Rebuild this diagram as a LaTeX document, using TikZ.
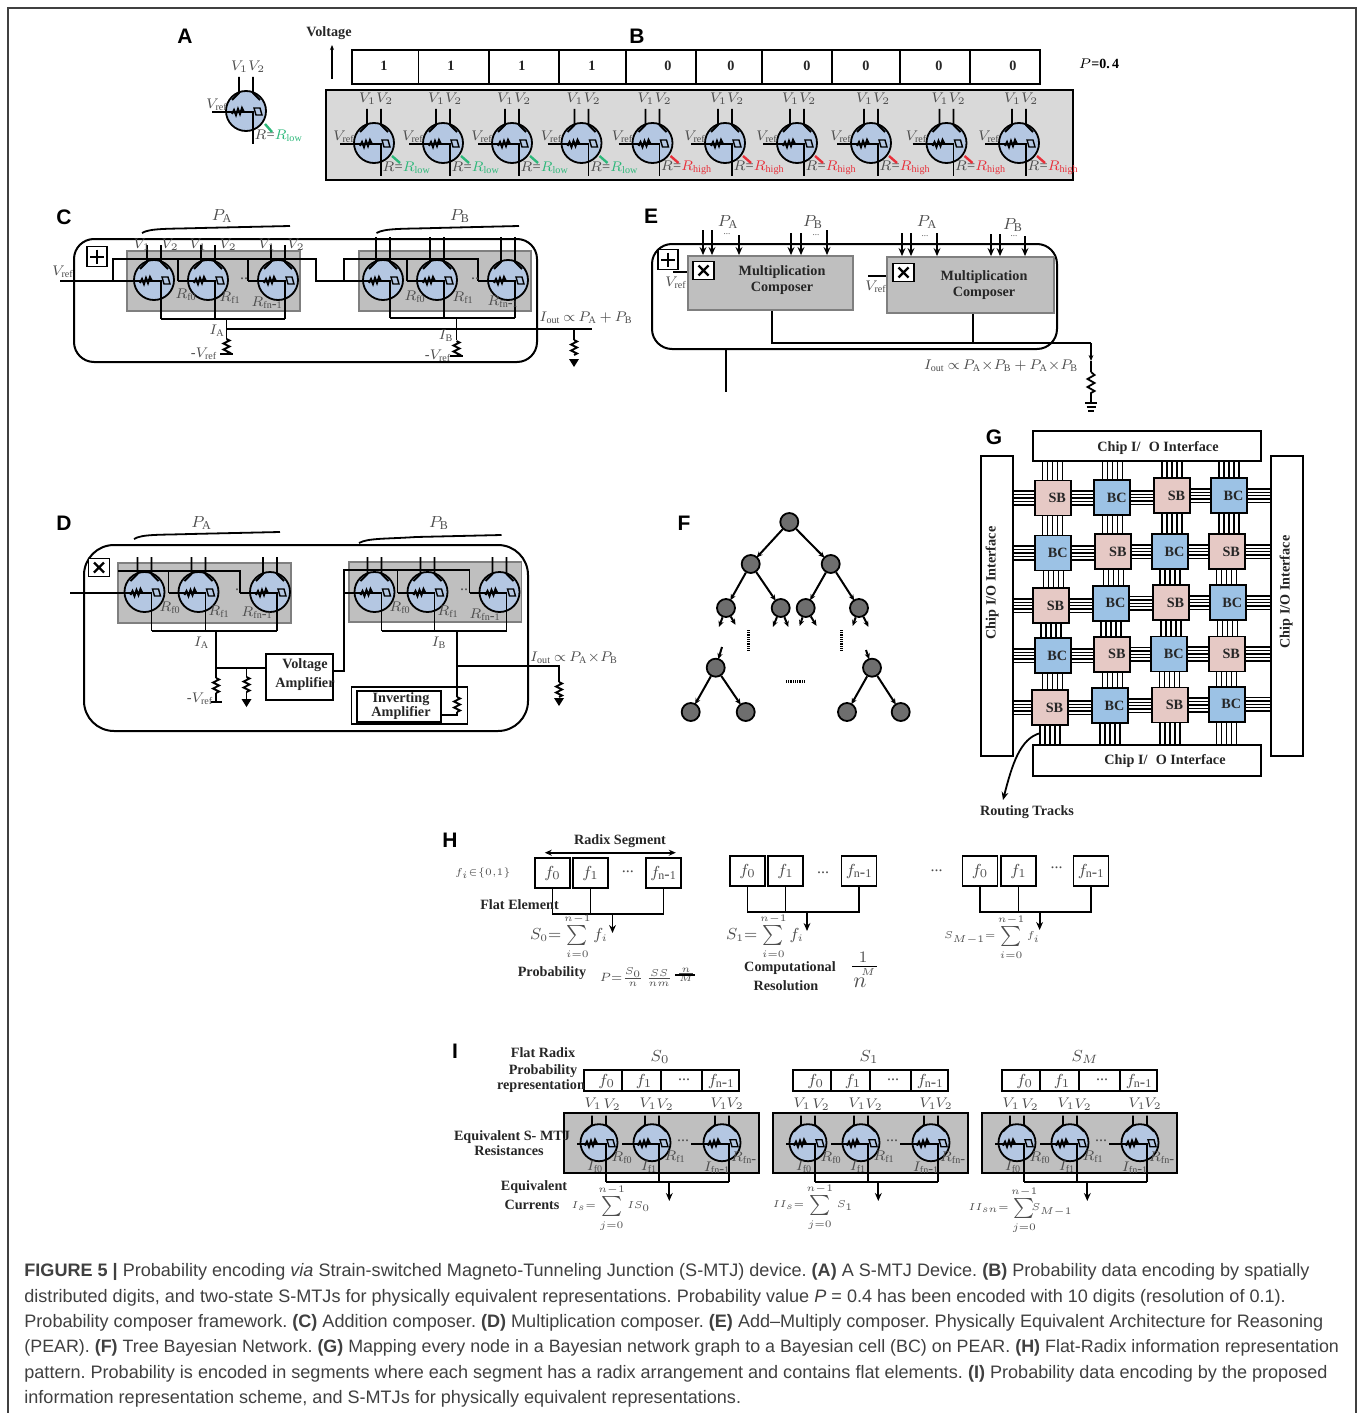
\documentclass[tikz,border=0pt]{standalone}
\usepackage{fontspec}
\setmainfont{Liberation Serif}
\newfontfamily\capfont{Liberation Sans}
\usetikzlibrary{arrows.meta,calc}
\definecolor{MtjBlue}{HTML}{B4C7E2}
\definecolor{PanelLight}{HTML}{D9D9D9}
\definecolor{PanelGray}{HTML}{BFBFBF}
\definecolor{RimGray}{HTML}{7F7F7F}
\definecolor{LabelGray}{HTML}{4D4D4D}
\definecolor{LowGreen}{HTML}{2DB87A}
\definecolor{HighRed}{HTML}{E8303A}
\definecolor{SbPink}{HTML}{E6C9C5}
\definecolor{BcBlue}{HTML}{9CC2E5}
\definecolor{NodeGray}{HTML}{6E6E6E}
\definecolor{CapGray}{HTML}{404040}
\tikzset{
  wire/.style={line width=0.9pt},
  wirearrow/.style={line width=0.9pt,-{Stealth[length=4pt,width=3.4pt]}},
  mtjbody/.style={circle,draw,fill=MtjBlue,line width=0.9pt,minimum size=20pt,inner sep=0pt},
  mlabel/.style={text=LabelGray,font=\fontsize{8}{10}\selectfont,inner sep=0pt},
  rlabel/.style={text=LabelGray,font=\fontsize{7.2}{9}\selectfont,inner sep=0pt,anchor=west},
  vlabel/.style={text=LabelGray,font=\fontsize{7.2}{9}\selectfont,inner sep=0pt},
  tinylabel/.style={text=LabelGray,font=\fontsize{4.5}{6}\selectfont,inner sep=0pt},
  boldlabel/.style={font=\fontsize{7.1}{8}\selectfont\bfseries,inner sep=0pt,align=center,text=black!85},
  letter/.style={font=\capfont\fontsize{10.5}{12}\selectfont\bfseries,inner sep=0pt},
  capline/.style={anchor=base west,font=\capfont\fontsize{9.03}{12}\selectfont\frenchspacing,text=CapGray,inner sep=0pt},
  SB cell/.style={draw,fill=SbPink,line width=0.9pt,minimum width=18pt,minimum height=17.5pt,inner sep=0pt,boldlabel},
  BC cell/.style={draw,fill=BcBlue,line width=0.9pt,minimum width=18pt,minimum height=17.5pt,inner sep=0pt,boldlabel},
  chipbox/.style={draw,fill=white,line width=1pt,inner sep=0pt,boldlabel},
  compbox/.style={draw=RimGray,fill=PanelGray,line width=0.9pt,inner sep=0pt,boldlabel},
  ampbox/.style={draw,line width=0.9pt,inner sep=0pt,boldlabel},
  bitcell/.style={line width=0.9pt},
  flatbox/.style={draw,line width=0.9pt,minimum width=17.5pt,minimum height=15pt,inner sep=0pt,mlabel},
  treenode/.style={circle,draw,fill=NodeGray,line width=0.9pt,minimum size=9pt,inner sep=0pt},
  treearrow/.style={line width=1pt,-{Stealth[length=3pt,width=2.6pt]},shorten >=-0.5pt},
  dotline/.style={line width=1.5pt,dash pattern=on 0.45pt off 0.45pt},
}
\begin{document}
\begin{tikzpicture}[x=0.5pt,y=-0.5pt]
  \useasboundingbox (0,0) rectangle (1360,1413);
  \def\tsum#1{\sum\limits_{\scriptscriptstyle #1=0}^{\scriptscriptstyle n-1}}
  \def\mtj#1#2#3#4#5#6{
    \begin{scope}[shift={(#2,#3)}]
      \node[mtjbody] (#1) at (0,0) {};
      \coordinate (#1w) at (-20-#5,1);
      \coordinate (#1s) at (7,1+#6);
      \draw[wire] (-7,-#4) -- (-7,-18) -- (-14,-11);
      \draw[wire] (7,-#4) -- (7,-18) -- (14,-11);
      \draw[wire] (#1w) -- (7,1) -- (#1s);
      \draw[line width=1pt] (-14,3) -- (-12,-1) -- (-10,4) -- (-8,-2) -- (-6,3) -- (-4,-3) -- (-2,1);
      \draw[line width=0.7pt] (8,-3) -- (14,-3) -- (16,4) -- (10,4) -- cycle;
    \end{scope}
  }
  \def\resv#1#2{
    \begin{scope}[shift={(#1,#2)}]
      \draw[wire] (0,0) -- (3,1.5) -- (-3,4.5) -- (3,7.5) -- (-3,10.5) -- (3,13.5) -- (0,15);
    \end{scope}
  }
  \def\gndarrow#1#2{
    \fill (#1-5,#2) -- (#1+5,#2) -- (#1,#2+8) -- cycle;
  }
  \def\pluspic#1#2{
    \draw[line width=0.9pt] (#1-10,#2-10) rectangle (#1+10,#2+10);
    \draw[line width=1pt] (#1-7,#2) -- (#1+7,#2) (#1,#2-7) -- (#1,#2+7);
  }
  \def\timespic#1#2{
    \draw[line width=0.9pt,fill=white] (#1-10.5,#2-9) rectangle (#1+10.5,#2+9);
    \draw[line width=1.1pt] (#1-5,#2-5) -- (#1+5,#2+5) (#1-5,#2+5) -- (#1+5,#2-5);
  }
  % frame
  \draw[line width=0.8pt,CapGray] (8,1413) -- (8,8) -- (1356,8) -- (1356,1413);
  % panel letters
  \foreach \nm/\xc/\yc in {A/185/36,B/637/36,C/64/217,D/64/523,E/651/216,F/684/523,G/994/437,H/450/840,I/455/1051}
    \node[letter] (let\nm) at (\xc,\yc) {\nm};
  % A
  \mtj{adev}{246}{111}{34}{14}{32}
  \node[vlabel] (av) at (248,67) {$V_1V_2$};
  \node[vlabel] (ar) at (217,105) {$V_{\mathrm{ref}}$};
  \node[rlabel] (ab) at (254,136) {$R$=\textcolor{LowGreen}{$R_{\mathrm{low}}$}};
  \draw[LowGreen,line width=1.2pt] (265,124) -- (272,132);
  % B
  \node[boldlabel] (volt) at (329,33) {Voltage};
  \coordinate (volta) at (332,79);
  \coordinate (voltb) at (332,45);
  \draw[line width=0.8pt,-{Stealth[length=2.5pt,width=2pt]}] (volta) -- (voltb);
  \foreach \i/\xa/\xb/\lx/\bitv in {1/352/418.5/384/1,2/418.5/489/451/1,3/489/559/522/1,4/559/626/592/1,5/626/696/668/0,6/696/762/731/0,7/762/832/807/0,8/832/900/866/0,9/900/970/939/0,10/970/1040/1013/0}{
    \draw[bitcell] (\xa,50) rectangle (\xb,84);
    \node[boldlabel] (bit\i) at (\lx,66) {\bitv};
  }
  \node[font=\fontsize{7}{8}\selectfont\bfseries,inner sep=0pt] (pval) at (1099,64) {$P$=0.\,4};
  \draw[fill=PanelLight,line width=1pt] (326,90) rectangle (1073,180);
  \foreach \i/\xc in {1/374,2/443,3/512,4/581.5}{
    \mtj{b\i}{\xc}{143}{34}{14}{32}
    \node[vlabel] (bv\i) at (\xc+2,99) {$V_1V_2$};
    \node[vlabel] (br\i) at (\xc-30,137) {$V_{\mathrm{ref}}$};
    \node[rlabel] (bq\i) at (\xc+8,168) {$R$=\textcolor{LowGreen}{$R_{\mathrm{low}}$}};
    \draw[LowGreen,line width=1.2pt] (\xc+18,156) -- (\xc+26,163);
  }
  \foreach \i/\xc in {5/652.5,6/725,7/797,8/871,9/946.5,10/1019}{
    \mtj{b\i}{\xc}{143}{34}{14}{32}
    \node[vlabel] (bv\i) at (\xc+2,99) {$V_1V_2$};
    \node[vlabel] (br\i) at (\xc-30,137) {$V_{\mathrm{ref}}$};
    \node[rlabel] (bq\i) at (\xc+8,168) {$R$=\textcolor{HighRed}{$R_{\mathrm{high}}$}};
    \draw[HighRed,line width=1.2pt] (\xc+18,156) -- (\xc+26,163);
  }
  % C
  \draw[line width=1pt,rounded corners=10pt] (74,239) rectangle (537,362);
  \draw[line width=0.9pt] (142,233) .. controls (150,228) and (170,229) .. (200,228) -- (290,226);
  \draw[line width=0.9pt] (376.5,233) .. controls (385,228) and (405,229) .. (435,228) -- (519,226);
  \node[mlabel] (cpa) at (222,216) {$P_{\mathrm{A}}$};
  \node[mlabel] (cpb) at (460,216) {$P_{\mathrm{B}}$};
  \pluspic{97}{256.5}
  \draw[fill=PanelGray,draw=RimGray,line width=0.9pt] (127,251) rectangle (300,311);
  \draw[fill=PanelGray,draw=RimGray,line width=0.9pt] (359,251) rectangle (531,311);
  \node[vlabel] (cvr) at (63,272) {$V_{\mathrm{ref}}$};
  \mtj{ca1}{154}{280}{35}{10}{38}
  \mtj{ca2}{208}{280}{35}{10}{38}
  \mtj{ca3}{278}{280}{35}{10}{38}
  \mtj{cb1}{383}{280}{43}{19}{37}
  \mtj{cb2}{437}{280}{43}{10}{37}
  \mtj{cb3}{508}{280}{43}{10}{37}
  \coordinate (cin) at (60,281);
  \coordinate (cbl) at (113,259);
  \coordinate (cbr) at (316,259);
  \coordinate (cdl) at (344,259);
  \coordinate (cdr) at (478,259);
  \draw[wire] (cin) -- (ca1w);
  \draw[wire] (cbl |- cin) -- (cbl) -- (cbr) -- (cbr |- cin) -- (cdl |- cin);
  \draw[wire] (ca2w) -- (ca2w |- cbl);
  \draw[wire] (ca3w) -- (ca3w |- cbl);
  \draw[wire] (cdl |- cin) -- (cdl) -- (cdr) -- (cb3w);
  \draw[wire] (cdl |- cin) -- (cb1w);
  \draw[wire] (cb2w) -- (cb2w |- cdl);
  \draw[wire] (ca1s) -- (ca3s);
  \draw[wire] (cb1s) -- (cb3s);
  \coordinate (cia) at (226.5,318);
  \coordinate (cib) at (456.5,317);
  \coordinate (cia2) at (226.5,329);
  \coordinate (cout) at (592,329);
  \coordinate (cgn) at (574,329);
  \draw[wire] (cia) -- (cia2) -- (226.5,339);
  \draw[wire] (cia2) -- (cout);
  \draw[wire] (cib) -- (456.5,340);
  \draw[wire] (cgn) -- (574,340);
  \resv{226.5}{339}
  \resv{456.5}{341}
  \resv{574}{340}
  \draw[line width=1.1pt] (220,354) -- (233,354);
  \draw[line width=1.1pt] (450,356) -- (463,356);
  \gndarrow{574}{359}
  \node[vlabel] (cla) at (217,331) {$I_{\mathrm{A}}$};
  \node[vlabel] (clb) at (446,336) {$I_{\mathrm{B}}$};
  \node[vlabel] (cma) at (204,354) {-$V_{\mathrm{ref}}$};
  \node[vlabel] (cmb) at (438,356) {-$V_{\mathrm{ref}}$};
  \node[vlabel] (cio) at (586,318) {$I_{\mathrm{out}}\,{\propto}\,P_{\mathrm{A}}\,{+}\,P_{\mathrm{B}}$};
  \foreach \nm/\xc/\yc/\tx in {r1/186/295/f0,r2/230/298/f1,r3/267/303/fn\mbox{-}1,r4/415/297/f0,r5/463/298/f1,r6/503/302/fn\mbox{-}1}
    \node[vlabel] (c\nm) at (\xc,\yc) {$R_{\mathrm{\tx}}$};
  \foreach \i/\xa/\xb in {1/142/170,2/198/228,3/267/296}{
    \node[vlabel] (cvp\i) at (\xa,245) {$V_1$};
    \node[vlabel] (cvq\i) at (\xb,245) {$V_2$};
  }
  \node[mlabel] (cdot1) at (244,279) {..};
  \node[mlabel] (cdot2) at (475,279) {..};
  % D
  \draw[line width=1pt,rounded corners=15pt] (84,545) rectangle (528,731);
  \draw[line width=0.9pt] (134,539) .. controls (142,534) and (160,535) .. (190,534) -- (280,532);
  \draw[line width=0.9pt] (359,543) .. controls (368,538) and (386,539) .. (416,537) -- (501.5,535);
  \node[mlabel] (dpa) at (201.5,523) {$P_{\mathrm{A}}$};
  \node[mlabel] (dpb) at (439,523) {$P_{\mathrm{B}}$};
  \draw[fill=PanelGray,draw=RimGray,line width=0.9pt] (118,563) rectangle (291,623);
  \draw[fill=PanelGray,draw=RimGray,line width=0.9pt] (349,562) rectangle (521.5,622);
  \timespic{99}{567.5}
  \mtj{da1}{144.5}{592}{35}{10}{38}
  \mtj{da2}{198.5}{592}{35}{10}{38}
  \mtj{da3}{270}{592}{35}{10}{38}
  \mtj{db1}{374.5}{592}{35}{10}{38}
  \mtj{db2}{427.5}{592}{35}{10}{38}
  \mtj{db3}{499.5}{592}{35}{10}{38}
  \coordinate (din) at (70,593);
  \draw[wire] (din) -- (da1w);
  \coordinate (dtl) at (118,571);
  \coordinate (dtr) at (240,571);
  \draw[wire] (dtl) -- (dtr) -- (dtr |- da3w) -- (da3w);
  \draw[wire] (da2w) -- (da2w |- dtl);
  \draw[wire] (da1s) -- (da3s);
  \coordinate (dia) at (216,631);
  \coordinate (dja) at (216,668);
  \node[ampbox,minimum width=33.5pt,minimum height=23pt] (vamp) at (299.75,677) {};
  \node[boldlabel] (vamp1) at (305,665) {Voltage};
  \node[boldlabel] (vamp2) at (305,684) {Amplifier};
  \draw[wire] (dia) -- (dja) -- (216,678);
  \draw[wire] (dja) -- (dja -| vamp.west);
  \resv{216}{678}
  \draw[wire] (216,693) -- (216,702);
  \draw[line width=1.1pt] (211,702) -- (222,702);
  \coordinate (dgn) at (246.5,668);
  \draw[wire] (dgn) -- (246.5,677);
  \resv{246.5}{677}
  \draw[wire] (246.5,692) -- (246.5,699);
  \gndarrow{246.5}{699}
  \coordinate (dvo) at (333.5,671);
  \coordinate (dub) at (344,570);
  \coordinate (due) at (469.5,570);
  \draw[wire] (dvo) -- (dvo -| dub) -- (dub) -- (due) -- (due |- db3w) -- (db3w);
  \draw[wire] (dub |- db1w) -- (db1w);
  \draw[wire] (db2w) -- (db2w |- dub);
  \draw[wire] (db1s) -- (db3s);
  \coordinate (dib) at (457,631);
  \coordinate (djb) at (457,666);
  \coordinate (dor) at (559,666);
  \draw[wire] (dib) -- (djb) -- (457,697);
  \resv{457}{697}
  \draw[wire] (djb) -- (dor) -- (559,682);
  \resv{559}{682}
  \gndarrow{559}{698}
  \node[ampbox,minimum width=58pt,minimum height=18.5pt] (iout) at (409.5,705.5) {};
  \node[ampbox,minimum width=42pt,minimum height=15.3pt] (iamp) at (399,706.5) {};
  \node[boldlabel] (iamp1) at (401,699) {Inverting};
  \node[boldlabel] (iamp2) at (401,713) {Amplifier};
  \coordinate (djc) at (457,715);
  \draw[wire] (djc -| iamp.east) -- (djc) -- (457,712);
  \node[vlabel] (dla) at (201.5,643) {$I_{\mathrm{A}}$};
  \node[vlabel] (dlb) at (439,643) {$I_{\mathrm{B}}$};
  \node[vlabel] (dma) at (200,699) {-$V_{\mathrm{ref}}$};
  \node[vlabel] (dio) at (574,658) {$I_{\mathrm{out}}\,{\propto}\,P_{\mathrm{A}}{\times}P_{\mathrm{B}}$};
  \foreach \nm/\xc/\yc/\tx in {r1/170/608/f0,r2/219/612/f1,r3/257/613/fn\mbox{-}1,r4/400/608/f0,r5/448/612/f1,r6/485/615/fn\mbox{-}1}
    \node[vlabel] (d\nm) at (\xc,\yc) {$R_{\mathrm{\tx}}$};
  \node[mlabel] (ddot1) at (237,590) {.};
  \node[mlabel] (ddot2) at (464,590) {..};
  % E
  \draw[line width=1pt,rounded corners=10pt] (652,244) rectangle (1057,349);
  \pluspic{668}{259.5}
  \node[compbox,minimum width=82.5pt,minimum height=27pt] (mca) at (770.5,283) {};
  \node[compbox,minimum width=83.5pt,minimum height=28pt] (mcb) at (970.5,285) {};
  \timespic{703.5}{270.5}
  \timespic{903.5}{272.5}
  \node[boldlabel] (mcat) at (782,280) {Multiplication\\Composer};
  \node[boldlabel] (mcbt) at (984,285) {Multiplication\\Composer};
  \foreach \xc/\yt in {703/230,712/230,739/235,791/233,801/233,827/230}{
    \coordinate (etop) at (\xc,\yt);
    \draw[wirearrow] (etop) -- (etop |- mca.north);
  }
  \foreach \xc/\yt in {902/233,911/233,937/233,991/234,1000/234,1025/236}{
    \coordinate (etop) at (\xc,\yt);
    \draw[wirearrow] (etop) -- (etop |- mcb.north);
  }
  \node[mlabel] (epa) at (728,222) {$P_{\mathrm{A}}$};
  \node[mlabel] (epb) at (813,222) {$P_{\mathrm{B}}$};
  \node[mlabel] (epc) at (927,222) {$P_{\mathrm{A}}$};
  \node[mlabel] (epd) at (1013,225) {$P_{\mathrm{B}}$};
  \foreach \i/\xc/\yc in {1/727/234,2/816/235,3/925/236,4/1014/236}
    \node[tinylabel] (edt\i) at (\xc,\yc) {...};
  \coordinate (evra) at (673,272);
  \coordinate (evrb) at (868,276);
  \draw[wire] (evra) -- (evra -| mca.west);
  \draw[wire] (evrb) -- (evrb -| mcb.west);
  \node[vlabel] (evl) at (676,283) {$V_{\mathrm{ref}}$};
  \node[vlabel] (evm) at (876,287) {$V_{\mathrm{ref}}$};
  \coordinate (ejn) at (772,343);
  \coordinate (ecr) at (1091,343);
  \coordinate (emd) at (973,343);
  \draw[wire] (ejn |- mca.south) -- (ejn) -- (ecr);
  \draw[wire] (emd |- mcb.south) -- (emd);
  \coordinate (eres) at (1091,372);
  \draw[line width=0.9pt,-{Stealth[length=3pt,width=2.4pt]}] (ecr) -- (1091,361);
  \draw[wire] (1091,361) -- (eres);
  \begin{scope}[shift={(eres)}]
    \draw[wire] (0,0) -- (3.5,3) -- (-3.5,7) -- (3.5,11) -- (-3.5,15) -- (3.5,19) -- (0,21) -- (0,31);
    \draw[wire] (-6,31) -- (6,31) (-4.5,35) -- (4.5,35) (-3,39) -- (3,39);
  \end{scope}
  \coordinate (estt) at (725.7,349);
  \coordinate (estb) at (725.7,392);
  \draw[wire] (estt) -- (estb);
  \node[vlabel] (eio) at (1001,366) {$I_{\mathrm{out}}\,{\propto}\,P_{\mathrm{A}}{\times}P_{\mathrm{B}}\,{+}\,P_{\mathrm{A}}{\times}P_{\mathrm{B}}$};
  % F
  \foreach \nm/\xc/\yc in {t0/789.3/522,t1/750.7/564,t2/830.7/564,t3/726/608,t4/780.7/608,t5/805.7/608,t6/859/608,t7/715.7/667.7,t8/872/667.7,t9/690.7/712,t10/745.7/712,t11/847/712,t12/900.7/712}
    \node[treenode] (\nm) at (\xc,\yc) {};
  \foreach \a/\b in {t0/t1,t0/t2,t1/t3,t1/t4,t2/t5,t2/t6,t7/t9,t7/t10,t8/t11,t8/t12}
    \draw[treearrow] (\a) -- (\b);
  \foreach \a/\i/\xc/\yc in {t3/a/719.3/626,t3/b/735/624,t4/a/773.3/626,t4/b/788/626,t5/a/800/625,t5/b/816/625,t6/a/853/625,t6/b/868/626}{
    \coordinate (\a\i) at (\xc,\yc);
    \draw[treearrow] (\a) -- (\a\i);
  }
  \coordinate (t7in) at (722,647);
  \coordinate (t8in) at (866,650);
  \draw[treearrow] (t7in) -- (t7);
  \draw[treearrow] (t8in) -- (t8);
  \coordinate (vda) at (748,630);
  \coordinate (vdb) at (748,650);
  \coordinate (vdc) at (841,630);
  \coordinate (vdd) at (841,650);
  \coordinate (hda) at (786,681.7);
  \coordinate (hdb) at (805,681.7);
  \draw[dotline] (vda) -- (vdb);
  \draw[dotline] (vdc) -- (vdd);
  \draw[dotline] (hda) -- (hdb);
  % G
  \node[chipbox,minimum width=114pt,minimum height=15pt] (gtop) at (1147,446) {};
  \node[chipbox,minimum width=114pt,minimum height=15.5pt] (gbot) at (1147,760.5) {};
  \node[chipbox,minimum width=16pt,minimum height=150pt] (gleft) at (997,605.5) {};
  \node[chipbox,minimum width=16pt,minimum height=150pt] (gright) at (1286.5,605.5) {};
  \node[boldlabel] (gtopt) at (1158,448) {Chip I/\,\, O Interface};
  \node[boldlabel] (gbott) at (1165,761) {Chip I/\,\, O Interface};
  \node[boldlabel,rotate=90] (gleftt) at (992,583) {Chip I/O Interface};
  \node[boldlabel,rotate=90] (grightt) at (1286,592) {Chip I/O Interface};
  \foreach \nm/\kind/\xc/\yc in {g11/SB/1052.7/498,g12/BC/1112.3/497.7,g13/SB/1172/495.7,g14/BC/1229/495.7,
      g21/BC/1053.3/553,g22/SB/1113.3/551.7,g23/BC/1170/551.7,g24/SB/1226.7/551.7,
      g31/SB/1051/605.7,g32/BC/1111/603.3,g33/SB/1171/602.7,g34/BC/1227.7/602.7,
      g41/BC/1052.7/655.7,g42/SB/1112.3/654.3,g43/BC/1169.3/654,g44/SB/1226.7/654,
      g51/SB/1050/707.7,g52/BC/1110/705.7,g53/SB/1170/705,g54/BC/1226.7/704.3}
    \node[\kind\space cell] (\nm) at (\xc,\yc) {\hspace*{4.5pt}\kind};
  \def\trackh#1#2{\coordinate (trkend) at (#1 -| #2); \foreach \trk in {-3.4,-1.7,0,1.7,3.4} \draw[line width=0.75pt] ([yshift=\trk pt]#1) -- ([yshift=\trk pt]trkend);}
  \def\trackv#1#2{\coordinate (trkend) at (#1 |- #2); \foreach \trk in {-5,-2.5,0,2.5,5} \draw[line width=0.75pt] ([xshift=\trk pt]#1) -- ([xshift=\trk pt]trkend);}
  \foreach \rw in {1,...,5}{
    \coordinate (gla\rw) at (g\rw1.west -| gleft.east);
    \coordinate (gra\rw) at (g\rw4.east -| gright.west);
    \trackh{gla\rw}{g\rw1.west}
    \trackh{g\rw1.east}{g\rw2.west}
    \trackh{g\rw2.east}{g\rw3.west}
    \trackh{g\rw3.east}{g\rw4.west}
    \trackh{g\rw4.east}{gra\rw}
  }
  \foreach \cl in {1,...,4}{
    \coordinate (gta\cl) at (g1\cl.north |- gtop.south);
    \coordinate (gba\cl) at (g5\cl.south |- gbot.north);
    \trackv{gta\cl}{g1\cl.north}
    \trackv{g1\cl.south}{g2\cl.north}
    \trackv{g2\cl.south}{g3\cl.north}
    \trackv{g3\cl.south}{g4\cl.north}
    \trackv{g4\cl.south}{g5\cl.north}
    \trackv{g5\cl.south}{gba\cl}
  }
  \coordinate (grt) at (1040.7,733);
  \coordinate (grb) at (1003,800);
  \draw[line width=0.9pt,-{Stealth[length=4pt,width=3.4pt]}] (grt) .. controls (1020,738) and (1012,765) .. (grb);
  \node[boldlabel] (grl) at (1027,812) {Routing Tracks};
  % H
  \def\radixseg#1#2#3#4#5#6#7#8{
    \node[flatbox] (#1a) at (#2,#5) {$f_0$};
    \node[flatbox] (#1b) at (#3,#5) {$f_1$};
    \node[flatbox] (#1c) at (#4,#5) {$f_{\mathrm{n\mbox{-}1}}$};
    \coordinate (#1j) at (#7,#6);
    \coordinate (#1e) at (#7,#8);
    \draw[wire] (#1a.south) -- (#1a.south |- #1j) -- (#1c.south |- #1j) -- (#1c.south);
    \draw[wire] (#1b.south) -- (#1b.south |- #1j);
    \draw[wirearrow] (#1j) -- (#1e);
  }
  \radixseg{ha}{552.5}{590.5}{663.5}{873}{914}{612.5}{933}
  \radixseg{hb}{747.5}{785.5}{859}{871}{912}{807}{931}
  \radixseg{hc}{980}{1018.5}{1091}{871}{912}{1039.6}{930}
  \coordinate (hra) at (544.8,852.7);
  \coordinate (hrb) at (675.8,852.7);
  \draw[line width=0.8pt,{Stealth[length=3.5pt,width=3pt]}-{Stealth[length=3.5pt,width=3pt]}] (hra) -- (hrb);
  \node[boldlabel] (hrs) at (620,841) {Radix Segment};
  \node[tinylabel] (hfi) at (483,873) {$f_i{\in}\{0{,}1\}$};
  \node[boldlabel] (hfe) at (519.5,905) {Flat Element};
  \foreach \i/\xc/\yc in {1/627.8/872,2/823/873,3/936.5/871,4/1056.6/868}
    \node[mlabel] (hdt\i) at (\xc,\yc) {...};
  \node[mlabel,font=\fontsize{7.6}{10}\selectfont] (hsa) at (569,936) {$S_0{=}\tsum{i}f_i$};
  \node[mlabel,font=\fontsize{7.6}{10}\selectfont] (hsb) at (765,936) {$S_1{=}\tsum{i}f_i$};
  \node[tinylabel] (hsc) at (992,937) {$S_{M-1}{=}\tsum{i}f_i$};
  \node[boldlabel] (hpr) at (552,973) {Probability};
  \node[mlabel,font=\fontsize{6}{8}\selectfont] (hpf) at (636,977) {$P{=}\frac{S_0}{n}\,\frac{SS}{nm}$};
  \node[tinylabel] (hpg) at (686,975) {$\frac{n}{M}$};
  \coordinate (hpa) at (675,975);
  \coordinate (hpb) at (695,975);
  \draw[line width=0.6pt] (hpa) -- (hpb);
  \node[boldlabel] (hct) at (790,968) {Computational};
  \node[boldlabel] (hrt) at (786,986) {Resolution};
  \node[mlabel] (hon) at (863,957) {$1$};
  \coordinate (hba) at (852,966.7);
  \coordinate (hbb) at (877,966.7);
  \draw[line width=0.7pt] (hba) -- (hbb);
  \node[mlabel,font=\fontsize{11}{12}\selectfont] (hnm) at (860,983) {$n$};
  \node[tinylabel] (hms) at (868,972) {$M$};
  % I
  \foreach \s/\dx/\slab/\sx in {a/0/S_0/660,b/209/S_1/660,c/418/S_M/667}{
    \begin{scope}[xshift=\dx*0.5pt]
      \tikzset{mtjbody/.append style={minimum size=18.5pt}}
      \node[mlabel] (i\s s) at (\sx,1057) {$\slab$};
      \draw[line width=0.9pt] (584.3,1070) rectangle (739,1091);
      \draw[line width=0.9pt] (621.7,1070) -- (621.7,1091) (660.7,1070) -- (660.7,1091) (701.7,1070) -- (701.7,1091);
      \node[mlabel] (i\s fa) at (606.7,1081) {$f_0$};
      \node[mlabel] (i\s fb) at (644,1081) {$f_1$};
      \node[mlabel] (i\s fc) at (684,1080) {...};
      \node[mlabel] (i\s fd) at (721,1081) {$f_{\mathrm{n\mbox{-}1}}$};
      \draw[fill=PanelGray,line width=1pt] (564.3,1112.7) rectangle (759,1172.7);
      \mtj{i\s 1}{599}{1142.7}{27}{2}{38}
      \mtj{i\s 2}{652}{1142.7}{27}{10}{38}
      \mtj{i\s 3}{722}{1142.7}{27}{11}{38}
      \draw[wire] (i\s 1s) -- (i\s 3s);
      \coordinate (i\s j) at (669.3,1181);
      \coordinate (i\s e) at (669.3,1201);
      \draw[wirearrow] (i\s j) -- (i\s e);
      \foreach \nm/\xc/\yc/\tx in {va/593/1104/V_1,vb/612/1105/V_2,vc/648/1104/V_1,vd/665/1105/V_2,ve/719/1104/V_1,vf/735/1104/V_2,ra/622/1158/R_{\mathrm{f0}},rb/675/1157/R_{\mathrm{f1}},rc/744/1158/R_{\mathrm{fn\mbox{-}}},ia/595/1167/I_{\mathrm{f0}},ib/649/1167/I_{\mathrm{f1}},ic/717/1168/I_{\mathrm{fn\mbox{-}1}}}
        \node[vlabel] (i\s\nm) at (\xc,\yc) {$\tx$};
      \node[mlabel] (i\s dt) at (683,1141) {...};
    \end{scope}
  }
  \node[boldlabel] (ila) at (543,1053) {Flat Radix};
  \node[boldlabel] (ilb) at (543,1071) {Probability};
  \node[boldlabel] (ilc) at (541,1086) {representation};
  \node[boldlabel] (ild) at (512,1137) {Equivalent S- MTJ};
  \node[boldlabel] (ile) at (509,1151) {Resistances};
  \node[boldlabel] (ilf) at (534,1187) {Equivalent};
  \node[boldlabel] (ilg) at (532,1205) {Currents};
  \node[mlabel,font=\fontsize{4.8}{6}\selectfont] (ifa) at (603,1208) {$I_{s}{=}\tsum{j}I$};
  \node[tinylabel] (isa) at (642,1207) {$S_0$};
  \node[mlabel,font=\fontsize{4.8}{6}\selectfont] (ifb) at (803,1207) {$II_{s}{=}\tsum{j}$};
  \node[tinylabel] (isb) at (845,1206) {$S_1$};
  \node[mlabel,font=\fontsize{4.8}{6}\selectfont] (ifc) at (1003,1210) {$II_{sn}{=}\tsum{j}$};
  \node[tinylabel] (isc) at (1052,1210) {$S_{M-1}$};
  % caption
  \node[capline] (cap1) at (24,1276.5) {\textbf{FIGURE 5 |} Probability encoding \textit{via} Strain-switched Magneto-Tunneling Junction (S-MTJ) device. \textbf{(A)} A S-MTJ Device. \textbf{(B)} Probability data encoding by spatially};
  \node[capline] (cap2) at (24,1302) {distributed digits, and two-state S-MTJs for physically equivalent representations. Probability value \textit{P} = 0.4 has been encoded with 10 digits (resolution of 0.1).};
  \node[capline] (cap3) at (24,1327) {Probability composer framework. \textbf{(C)} Addition composer. \textbf{(D)} Multiplication composer. \textbf{(E)} Add–Multiply composer. Physically Equivalent Architecture for Reasoning};
  \node[capline,font=\capfont\fontsize{8.93}{12}\selectfont\frenchspacing] (cap4) at (24,1352.5) {(PEAR). \textbf{(F)} Tree Bayesian Network. \textbf{(G)} Mapping every node in a Bayesian network graph to a Bayesian cell (BC) on PEAR. \textbf{(H)} Flat-Radix information representation};
  \node[capline] (cap5) at (24,1378) {pattern. Probability is encoded in segments where each segment has a radix arrangement and contains flat elements. \textbf{(I)} Probability data encoding by the proposed};
  \node[capline] (cap6) at (24,1403) {information representation scheme, and S-MTJs for physically equivalent representations.};
\end{tikzpicture}
\end{document}
